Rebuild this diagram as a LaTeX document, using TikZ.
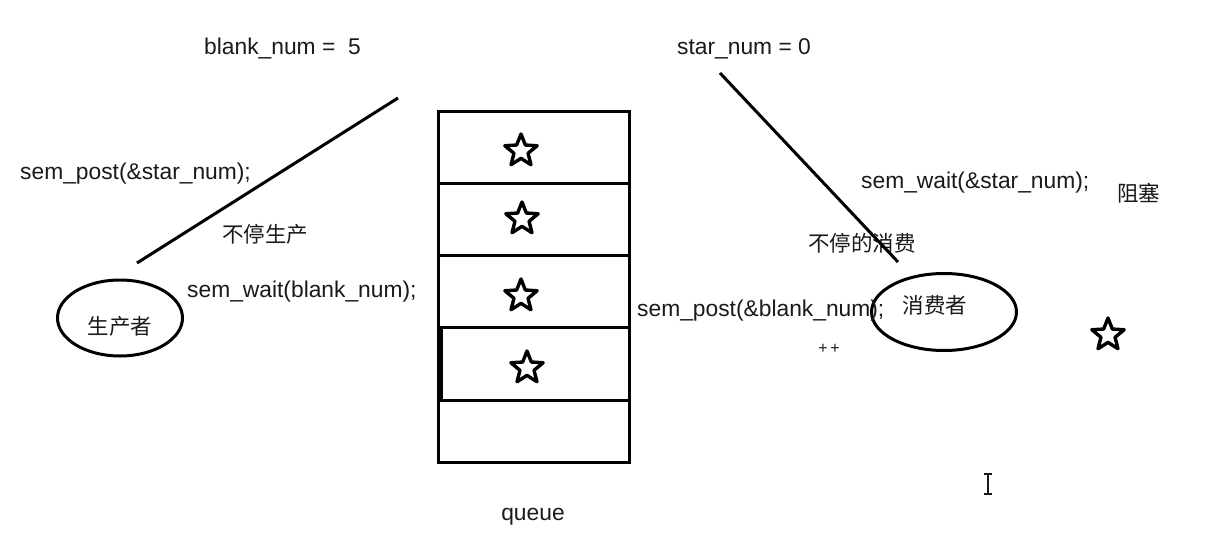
\documentclass[tikz,border=0pt]{standalone}
\usepackage{fontspec}
\setmainfont{Liberation Sans}
\newfontfamily\cjk{Noto Sans CJK SC}
\usetikzlibrary{shapes.geometric}
\definecolor{ink}{HTML}{1A1A1A}
\tikzset{
  lbl/.style={font=\fontsize{22.8}{24}\selectfont, text=ink, inner sep=0pt, anchor=west},
  cjklbl/.style={font=\cjk\fontsize{21.5}{23}\selectfont, text=ink, inner sep=0pt, anchor=west},
  stroke/.style={line width=3pt, draw=black},
  qstar/.style={star, star points=5, star point ratio=2.3, minimum size=34pt, draw=black, line width=3.4pt, line join=round, fill=white, inner sep=0pt},
  role/.style={ellipse, draw=black, line width=3pt, inner sep=0pt},
}
\begin{document}
\begin{tikzpicture}[x=1pt,y=-1pt]
\useasboundingbox[fill=white] (0,0) rectangle (1208,541);

% top labels
\node[lbl] (blank) at (204,49) {blank\_num =\ \ 5};
\node[lbl] (starn) at (677,49) {star\_num = 0};

% queue
\draw[stroke] (438,111) rectangle (629,462);
\draw[stroke] (438,183) -- (629,183);
\draw[stroke] (438,255) -- (629,255);
\draw[stroke] (438,327) -- (629,327);
\draw[stroke] (441,327) -- (441,400);
\draw[stroke] (438,400) -- (629,400);
\node[qstar] (s1) at (521,151) {};
\node[qstar] (s2) at (522,219) {};
\node[qstar] (s3) at (521,296) {};
\node[qstar] (s4) at (527,368) {};
\node[lbl, anchor=center] (queue) at (533,517) {queue};

% producer side
\node[role, minimum width=125pt, minimum height=76pt] (prod) at (120,318) {};
\node[cjklbl, anchor=center] (prodt) at (120,326) {生产者};
\node[lbl] (post1) at (20,174) {sem\_post(\&star\_num);};
\node[cjklbl] (prodc) at (222,234) {不停生产};
\node[lbl] (wait1) at (187,292) {sem\_wait(blank\_num);};
\coordinate (l1a) at (398,98);
\coordinate (l1b) at (137,263);
\draw[stroke] (l1a) -- (l1b);

% consumer side
\node[role, minimum width=145pt, minimum height=77pt] (cons) at (944,312) {};
\node[cjklbl, anchor=center] (const) at (935,305) {消费者};
\node[lbl] (wait2) at (861,183) {sem\_wait(\&star\_num);};
\node[cjklbl] (block) at (1117,193) {阻塞};
\node[cjklbl] (consc) at (808,243) {不停的消费};
\node[lbl] (post2) at (637,311) {sem\_post(\&blank\_num);};
\node[font=\fontsize{16}{18}\selectfont, text=ink, inner sep=0pt] (pp) at (829,349) {+\,+};
\coordinate (l2a) at (720,73);
\coordinate (l2b) at (898,262);
\draw[stroke] (l2a) -- (l2b);

\node[qstar] (s5) at (1108,335) {};

% text cursor
\coordinate (cur) at (988,484);
\draw[line width=1.2pt, draw=ink] ([yshift=-10pt]cur) -- ([yshift=10pt]cur);
\draw[line width=1.2pt, draw=ink] ([xshift=-4pt,yshift=-10pt]cur) -- ([xshift=4pt,yshift=-10pt]cur);
\draw[line width=1.2pt, draw=ink] ([xshift=-4pt,yshift=10pt]cur) -- ([xshift=4pt,yshift=10pt]cur);
\end{tikzpicture}
\end{document}
